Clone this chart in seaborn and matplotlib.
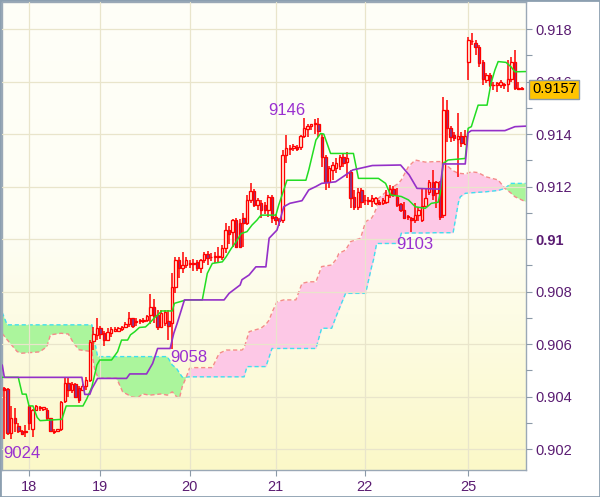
import numpy as np
import pandas as pd
import matplotlib
matplotlib.use("Agg")
import matplotlib.pyplot as plt
from matplotlib.colors import LinearSegmentedColormap
from matplotlib.patches import Rectangle
import seaborn as sns

# hourly candles, prices in 1/10000 units (9043.2 -> 0.90432)
opens = [9043.2, 9042.8, 9026.0, 9031.7, 9028.8, 9026.9, 9026.4, 9036.4, 9027.5, 9034.9,
         9035.5, 9035.1, 9034.9, 9031.7, 9026.6, 9026.9, 9027.5, 9038.1, 9045.0, 9042.5,
         9044.8, 9043.1, 9042.5, 9044.0, 9046.3, 9061.0, 9063.4, 9066.0, 9064.1, 9061.5,
         9064.3, 9065.0, 9065.0, 9065.6, 9066.5, 9067.8, 9069.8, 9068.5, 9068.8, 9068.9,
         9069.0, 9071.0, 9074.2, 9071.0, 9066.3, 9067.9, 9068.9, 9067.9, 9081.8, 9092.0,
         9088.8, 9090.0, 9090.5, 9090.7, 9091.3, 9088.8, 9092.0, 9094.3, 9093.2, 9093.2,
         9093.0, 9093.3, 9096.4, 9103.4, 9102.5, 9107.2, 9106.0, 9107.9, 9106.0, 9114.9,
         9118.3, 9113.0, 9113.6, 9113.0, 9111.0, 9116.0, 9108.5, 9107.5, 9107.2, 9132.0,
         9134.3, 9134.8, 9135.0, 9135.0, 9139.2, 9142.0, 9143.0, 9144.0, 9144.0, 9139.0,
         9131.4, 9121.8, 9126.3, 9127.0, 9128.0, 9131.4, 9129.5, 9125.6, 9116.0, 9112.1,
         9118.7, 9114.9, 9114.6, 9114.4, 9113.8, 9114.2, 9113.8, 9114.2, 9116.8, 9118.9,
         9116.0, 9113.2, 9111.0, 9108.6, 9107.9, 9107.3, 9109.1, 9107.3, 9112.6, 9118.0,
         9121.8, 9117.4, 9121.0, 9109.0, 9149.1, 9142.2, 9139.5, 9138.0, 9139.3, 9136.2,
         9167.6, 9175.6, 9174.8, 9173.0, 9167.6, 9160.5, 9162.5, 9158.6, 9158.6, 9158.8,
         9158.8, 9159.0, 9160.8, 9167.6, 9157.4, 9157.4]
highs = [9043.5, 9043.1, 9036.4, 9035.5, 9029.8, 9027.3, 9029.2, 9036.8, 9035.4, 9036.8,
         9036.4, 9036.0, 9035.5, 9032.0, 9027.5, 9027.8, 9038.1, 9047.0, 9047.0, 9045.5,
         9045.0, 9044.0, 9044.8, 9047.6, 9061.6, 9066.3, 9069.8, 9067.0, 9065.0, 9066.0,
         9066.3, 9066.5, 9066.3, 9067.0, 9068.5, 9072.3, 9070.0, 9069.8, 9069.5, 9069.8,
         9071.0, 9079.0, 9077.0, 9073.0, 9073.0, 9073.0, 9073.0, 9086.9, 9093.3, 9093.3,
         9095.2, 9093.3, 9092.0, 9092.5, 9092.0, 9092.5, 9095.0, 9095.4, 9094.5, 9095.0,
         9097.0, 9097.6, 9106.0, 9105.0, 9107.5, 9108.0, 9107.5, 9110.0, 9116.8, 9121.2,
         9119.0, 9115.5, 9115.0, 9114.0, 9116.8, 9116.8, 9109.5, 9108.0, 9134.0, 9139.6,
         9136.0, 9136.3, 9136.0, 9139.6, 9146.0, 9144.0, 9144.0, 9145.6, 9146.0, 9140.0,
         9132.0, 9128.0, 9129.5, 9131.0, 9132.0, 9132.5, 9133.3, 9126.3, 9118.7, 9119.3,
         9119.3, 9116.8, 9116.0, 9116.8, 9116.0, 9114.8, 9115.5, 9118.7, 9120.6, 9120.2,
         9119.3, 9113.6, 9114.2, 9109.2, 9108.5, 9113.6, 9112.3, 9118.9, 9119.3, 9122.5,
         9126.3, 9122.0, 9122.0, 9154.2, 9152.9, 9143.0, 9140.6, 9148.1, 9140.6, 9141.5,
         9177.1, 9178.6, 9175.8, 9173.9, 9168.2, 9163.1, 9163.1, 9160.0, 9160.0, 9160.6,
         9159.5, 9168.2, 9169.5, 9172.0, 9160.0, 9158.0]
lows = [9023.7, 9025.4, 9023.7, 9026.6, 9026.0, 9025.4, 9024.7, 9027.3, 9024.4, 9034.3,
        9034.6, 9034.3, 9031.0, 9026.4, 9025.8, 9026.4, 9026.9, 9037.4, 9040.0, 9041.5,
        9039.5, 9037.4, 9042.0, 9042.5, 9045.7, 9057.7, 9061.5, 9062.0, 9059.3, 9061.0,
        9062.8, 9064.7, 9064.5, 9065.0, 9066.0, 9066.3, 9066.0, 9066.8, 9067.8, 9068.0,
        9068.5, 9067.8, 9068.0, 9065.5, 9066.0, 9067.0, 9061.5, 9058.0, 9079.3, 9085.0,
        9086.9, 9088.8, 9088.8, 9088.0, 9088.0, 9087.0, 9091.0, 9090.0, 9091.5, 9090.8,
        9091.4, 9092.0, 9094.5, 9098.0, 9097.0, 9096.4, 9096.4, 9097.0, 9105.3, 9113.6,
        9112.3, 9111.0, 9108.0, 9109.5, 9108.5, 9106.0, 9105.3, 9105.0, 9106.0, 9129.0,
        9132.0, 9133.5, 9133.5, 9134.0, 9138.3, 9139.0, 9141.5, 9140.0, 9139.0, 9127.5,
        9118.7, 9119.5, 9122.5, 9125.0, 9126.3, 9127.5, 9123.1, 9111.7, 9111.0, 9111.0,
        9111.7, 9113.0, 9113.0, 9112.3, 9113.0, 9113.0, 9113.0, 9113.5, 9115.5, 9116.1,
        9112.3, 9110.4, 9107.5, 9107.3, 9102.8, 9106.0, 9107.0, 9106.6, 9112.3, 9116.8,
        9114.8, 9112.0, 9107.2, 9108.0, 9137.1, 9137.0, 9137.5, 9123.7, 9135.2, 9135.8,
        9160.6, 9174.0, 9170.1, 9165.6, 9158.7, 9159.3, 9158.0, 9156.8, 9156.1, 9157.4,
        9157.0, 9156.1, 9160.0, 9156.8, 9156.8, 9156.8]
closes = [9042.6, 9026.0, 9031.7, 9029.8, 9026.9, 9025.6, 9026.8, 9029.8, 9034.9, 9036.4,
          9036.0, 9035.9, 9031.7, 9026.9, 9026.9, 9027.5, 9037.8, 9045.1, 9042.5, 9044.8,
          9040.0, 9038.7, 9044.0, 9046.1, 9060.9, 9064.0, 9066.0, 9064.0, 9061.5, 9064.7,
          9065.6, 9065.6, 9066.0, 9066.5, 9067.8, 9069.8, 9066.8, 9068.6, 9069.0, 9069.1,
          9070.6, 9074.2, 9070.6, 9066.3, 9072.0, 9072.3, 9066.9, 9081.8, 9092.0, 9088.8,
          9090.0, 9092.0, 9090.7, 9090.5, 9088.8, 9092.0, 9094.3, 9092.6, 9093.3, 9093.4,
          9093.6, 9096.4, 9103.4, 9102.1, 9107.2, 9096.8, 9096.8, 9106.0, 9114.9, 9118.3,
          9113.0, 9114.8, 9111.0, 9111.0, 9116.0, 9107.9, 9107.2, 9107.0, 9132.0, 9134.5,
          9134.5, 9135.5, 9134.2, 9139.2, 9142.2, 9143.0, 9144.0, 9144.1, 9141.0, 9131.4,
          9121.8, 9127.0, 9128.2, 9128.8, 9131.4, 9128.8, 9130.7, 9115.5, 9112.3, 9118.0,
          9114.2, 9115.0, 9114.8, 9115.5, 9115.5, 9113.3, 9114.8, 9116.8, 9118.9, 9117.1,
          9113.0, 9111.0, 9107.9, 9108.5, 9107.3, 9109.1, 9111.0, 9112.6, 9115.5, 9121.8,
          9116.8, 9121.8, 9108.5, 9149.1, 9142.2, 9139.0, 9138.3, 9139.3, 9136.7, 9139.3,
          9175.8, 9175.4, 9173.0, 9167.0, 9160.8, 9162.5, 9158.7, 9158.7, 9159.3, 9160.0,
          9158.9, 9160.8, 9167.6, 9157.4, 9157.2, 9157.0]

# Tenkan-sen (green) and Kijun-sen (purple), bar index / price
tenkan_x = [-0.5, 4.0, 5.1, 6.2, 7.0, 8.1, 9.3, 10.1, 16.2, 17.4, 22.1, 23.2, 24.6, 26.0, 26.8,
            30.1, 31.8, 32.9, 34.6, 35.4, 36.6, 37.9, 39.6, 40.7, 42.1, 43.0, 44.1, 47.1, 47.7,
            51.0, 55.5, 56.9, 58.3, 61.1, 62.2, 63.6, 65.0, 66.4, 68.0, 69.4, 70.8, 71.9, 76.1,
            76.9, 79.2, 84.5, 85.3, 87.3, 88.6, 89.5, 91.4, 97.8, 99.2, 104.8, 106.8, 108.2,
            111.2, 113.2, 115.1, 117.9, 119.6, 121.5, 122.1, 122.9, 124.3, 129.1, 129.9, 130.8,
            132.7, 135.2, 136.3, 137.4, 138.3, 140.5, 141.9, 143.0, 146.0]
tenkan_v = [9047.3, 9047.3, 9040.9, 9040.9, 9036.4, 9036.4, 9032.0, 9030.8, 9031.3, 9036.4,
            9036.4, 9039.2, 9043.7, 9052.0, 9053.9, 9053.9, 9057.1, 9061.5, 9061.5, 9063.5,
            9064.7, 9066.3, 9066.5, 9067.9, 9070.0, 9071.0, 9072.6, 9072.6, 9075.5, 9076.8,
            9076.8, 9086.9, 9090.7, 9091.3, 9093.3, 9096.4, 9099.0, 9102.1, 9102.8, 9105.3,
            9107.2, 9109.1, 9109.1, 9113.0, 9122.4, 9122.4, 9126.3, 9137.7, 9140.2, 9140.0,
            9132.6, 9132.6, 9123.1, 9123.1, 9121.2, 9116.8, 9116.2, 9114.9, 9112.3, 9111.7,
            9113.6, 9114.0, 9117.4, 9128.8, 9130.1, 9130.7, 9142.2, 9142.8, 9151.0, 9151.0,
            9159.3, 9164.4, 9167.6, 9167.3, 9165.6, 9163.7, 9163.8]
kijun_x = [-0.5, 0.1, 21.8, 22.6, 24.0, 24.6, 26.2, 34.3, 35.2, 39.9, 41.6, 43.0, 46.5, 47.5,
           48.5, 50.5, 61.6, 63.0, 66.1, 66.6, 68.6, 70.5, 73.3, 74.2, 76.4, 77.0, 78.3, 80.0,
           83.4, 85.3, 87.3, 88.9, 92.8, 95.6, 97.6, 103.1, 111.0, 113.4, 115.6, 122.0, 122.9,
           129.1, 129.9, 130.8, 140.2, 143.0, 146.0]
kijun_v = [9052.0, 9047.3, 9047.3, 9040.8, 9040.8, 9043.0, 9046.9, 9046.9, 9048.6, 9048.6,
           9052.6, 9058.3, 9058.3, 9064.0, 9068.0, 9076.8, 9076.8, 9079.3, 9082.5, 9084.5,
           9086.3, 9089.4, 9089.4, 9100.3, 9103.4, 9106.0, 9112.3, 9113.6, 9114.6, 9118.7,
           9120.0, 9121.2, 9121.8, 9124.4, 9126.3, 9128.0, 9128.2, 9124.4, 9119.3, 9119.0,
           9128.6, 9128.6, 9140.5, 9141.3, 9141.3, 9142.8, 9143.0]

# cloud: Senkou span A (cyan) and span B (salmon)
cloud_x = [-0.5, 0.9, 3.7, 5.0, 10.0, 12.0, 13.0, 16.0, 18.0, 19.5, 21.0, 24.6, 25.4, 26.2,
           27.0, 31.5, 33.2, 35.7, 37.4, 38.8, 40.7, 44.1, 45.7, 47.1, 48.3, 49.1, 49.9, 51.0,
           51.9, 53.3, 58.3, 60.2, 62.2, 66.6, 67.2, 68.0, 68.6, 71.9, 73.3, 74.2, 75.0, 76.4,
           78.3, 81.7, 83.4, 85.3, 87.3, 88.9, 91.7, 93.1, 93.7, 95.6, 97.0, 99.8, 101.2, 102.9,
           103.4, 104.3, 104.8, 107.6, 110.4, 111.2, 113.2, 115.1, 117.9, 120.7, 122.9, 124.9,
           125.7, 127.2, 127.7, 129.1, 130.8, 132.7, 134.9, 138.3, 140.2, 141.9, 143.0, 146.0]
span_a = [9072.0, 9067.3, 9067.3, 9067.3, 9067.3, 9067.3, 9067.3, 9067.3, 9067.3, 9067.3,
          9067.3, 9067.3, 9061.0, 9055.2, 9055.2, 9055.2, 9055.2, 9055.2, 9055.2, 9055.2,
          9055.2, 9055.2, 9055.2, 9052.0, 9050.7, 9049.0, 9047.4, 9047.4, 9047.5, 9047.5,
          9047.5, 9047.5, 9047.5, 9047.5, 9047.5, 9051.4, 9051.4, 9051.4, 9051.4, 9055.0,
          9058.3, 9058.3, 9058.3, 9058.3, 9058.3, 9058.3, 9058.3, 9066.0, 9066.0, 9071.0,
          9073.0, 9079.3, 9079.3, 9079.3, 9079.3, 9089.5, 9092.0, 9098.3, 9098.3, 9098.3,
          9098.3, 9102.2, 9102.3, 9102.3, 9102.3, 9102.4, 9102.4, 9102.4, 9102.4, 9114.0,
          9116.1, 9117.4, 9117.6, 9117.8, 9118.0, 9118.5, 9119.3, 9121.2, 9121.2, 9121.2]
span_b = [9064.0, 9061.6, 9057.1, 9056.5, 9057.0, 9059.0, 9063.5, 9064.1, 9063.8, 9060.3,
          9057.8, 9057.1, 9050.1, 9047.6, 9047.0, 9047.0, 9041.8, 9039.9, 9039.5, 9041.0,
          9040.5, 9041.0, 9040.5, 9041.8, 9039.9, 9039.3, 9043.8, 9047.3, 9050.7, 9051.0,
          9051.0, 9056.4, 9057.7, 9057.7, 9058.5, 9062.0, 9064.7, 9066.0, 9067.5, 9069.1,
          9072.0, 9076.1, 9076.8, 9076.8, 9083.1, 9083.7, 9083.7, 9089.5, 9090.1, 9092.5,
          9094.5, 9095.8, 9099.0, 9100.3, 9106.6, 9108.0, 9109.1, 9112.0, 9115.5, 9118.7,
          9121.2, 9122.5, 9127.6, 9130.1, 9129.3, 9129.5, 9129.5, 9126.9, 9126.0, 9125.0,
          9125.0, 9124.8, 9125.6, 9125.3, 9123.7, 9122.5, 9119.3, 9117.5, 9116.1, 9114.2]

# day separators (bar index of first bar of each day)
day_bars = [7, 27, 52, 76, 101, 130]
day_labels = ['18', '19', '20', '21', '22', '25']

y_ticks = [0.902, 0.904, 0.906, 0.908, 0.910, 0.912, 0.914, 0.916, 0.918]
y_labels = ['0.902', '0.904', '0.906', '0.908', '0.91', '0.912', '0.914', '0.916', '0.918']

# extreme labels: text, bar, price, offset in pixels
marks = [('9024', 2, 9023.7, (11, -14)),
         ('9058', 47, 9058.0, (17, -8)),
         ('9146', 84, 9146.0, (-17, 8)),
         ('9103', 114, 9102.8, (4, -13))]
last_price = 0.9157

sns.set_style("white")
plt.rcParams['font.family'] = ['Liberation Sans', 'DejaVu Sans']

df = pd.DataFrame({'open': opens, 'high': highs, 'low': lows, 'close': closes}) / 10000
df['bar'] = np.arange(len(df))
up = df['close'] >= df['open']
body_lo = df[['open', 'close']].min(axis=1)
body_hi = df[['open', 'close']].max(axis=1)

fig = plt.figure(figsize=(6, 4.97), dpi=100)
fig.patch.set_facecolor('white')
ax = fig.add_axes([2 / 600, 27 / 497, 524 / 600, 468 / 497])

x_min, x_max = -0.56, 146.1
y_min, y_max = 0.9012, 0.91903

# background gradient
cmap = LinearSegmentedColormap.from_list('bg', ['#FBF8C8', '#FEFEF4', '#FFFFF8'])
grad = np.linspace(0, 1, 256).reshape(-1, 1)
ax.imshow(grad, extent=[x_min, x_max, y_min, y_max], origin='lower',
          aspect='auto', cmap=cmap, zorder=0)

# cloud
cx = np.array(cloud_x)
sa = np.array(span_a) / 10000
sb = np.array(span_b) / 10000
ax.fill_between(cx, sa, sb, where=sa >= sb, interpolate=True, color='#ABF59C', lw=0, zorder=1)
ax.fill_between(cx, sa, sb, where=sa < sb, interpolate=True, color='#FDC8E6', lw=0, zorder=1)
ax.plot(cx, sa, color='#3FE0EE', lw=1.0, ls=(0, (3, 2)), zorder=2)
ax.plot(cx, sb, color='#F58A8A', lw=1.0, ls=(0, (3, 2)), zorder=2)

# candles
ax.vlines(df['bar'], df['low'], body_lo, color='#FF0000', lw=1.1, zorder=3)
ax.vlines(df['bar'], body_hi, df['high'], color='#FF0000', lw=1.1, zorder=3)
ax.bar(df['bar'][up], (body_hi - body_lo)[up], bottom=body_lo[up], width=0.68,
       facecolor='#FFFDE8', edgecolor='#FF0000', linewidth=0.95, zorder=3)
ax.bar(df['bar'][~up], (body_hi - body_lo)[~up], bottom=body_lo[~up], width=0.68,
       facecolor='#7A3C98', edgecolor='#FF0000', linewidth=0.95, zorder=3)

# tenkan / kijun
sns.lineplot(x=tenkan_x, y=np.array(tenkan_v) / 10000, ax=ax, color='#22DD22',
             lw=1.1, estimator=None, sort=False, zorder=4)
sns.lineplot(x=kijun_x, y=np.array(kijun_v) / 10000, ax=ax, color='#9430C8',
             lw=1.2, estimator=None, sort=False, zorder=4)

for txt, bar, price, off in marks:
    ax.annotate(txt, (bar, price / 10000), xytext=off, textcoords='offset pixels',
                ha='center', va='center', color='#9A30D0', fontsize=12, zorder=6)

ax.set_xlim(x_min, x_max)
ax.set_ylim(y_min, y_max)

ax.yaxis.tick_right()
ax.set_yticks(y_ticks)
ax.set_yticklabels(y_labels)
ax.set_yticks([0.903, 0.905, 0.907, 0.909, 0.911, 0.913, 0.915, 0.917], minor=True)
ax.set_xticks(day_bars)
ax.set_xticklabels(day_labels)
ax.tick_params(axis='y', which='both', direction='out', length=4, width=0.8,
               color='#8C9AA8', labelcolor='#5A1C72', labelsize=10.5, pad=3, right=True, left=False)
ax.tick_params(axis='x', direction='out', length=4, width=0.8, color='#8C9AA8',
               labelcolor='#5A1C72', labelsize=10.5, pad=3, bottom=True)
for lab in ax.get_yticklabels():
    if lab.get_text() == '0.91':
        lab.set_fontweight('bold')

ax.grid(True, which='major', color='#E9E5CB', lw=0.9, zorder=0.5)
ax.set_axisbelow(False)
for gl in ax.get_xgridlines() + ax.get_ygridlines():
    gl.set_zorder(0.5)

for side in ['left', 'top', 'right', 'bottom']:
    ax.spines[side].set_color('#9AA8B6')
    ax.spines[side].set_linewidth(1.0)

ax.set_xlabel('')
ax.set_ylabel('')

# last price tag
ax.annotate(f'{last_price:.4f}', xy=(1, last_price), xycoords=('axes fraction', 'data'),
            xytext=(6, 0), textcoords='offset pixels', ha='left', va='center',
            fontsize=10.5, color='black', annotation_clip=False, zorder=10,
            bbox=dict(boxstyle='square,pad=0.18', facecolor='#FFC400', edgecolor='#8A9AAA', lw=1.0))

fig.patches.append(Rectangle((0, 0), 1, 1, transform=fig.transFigure, fill=False,
                             edgecolor='#8C9FB0', lw=2.0))

fig.savefig('out.png', dpi=100)
